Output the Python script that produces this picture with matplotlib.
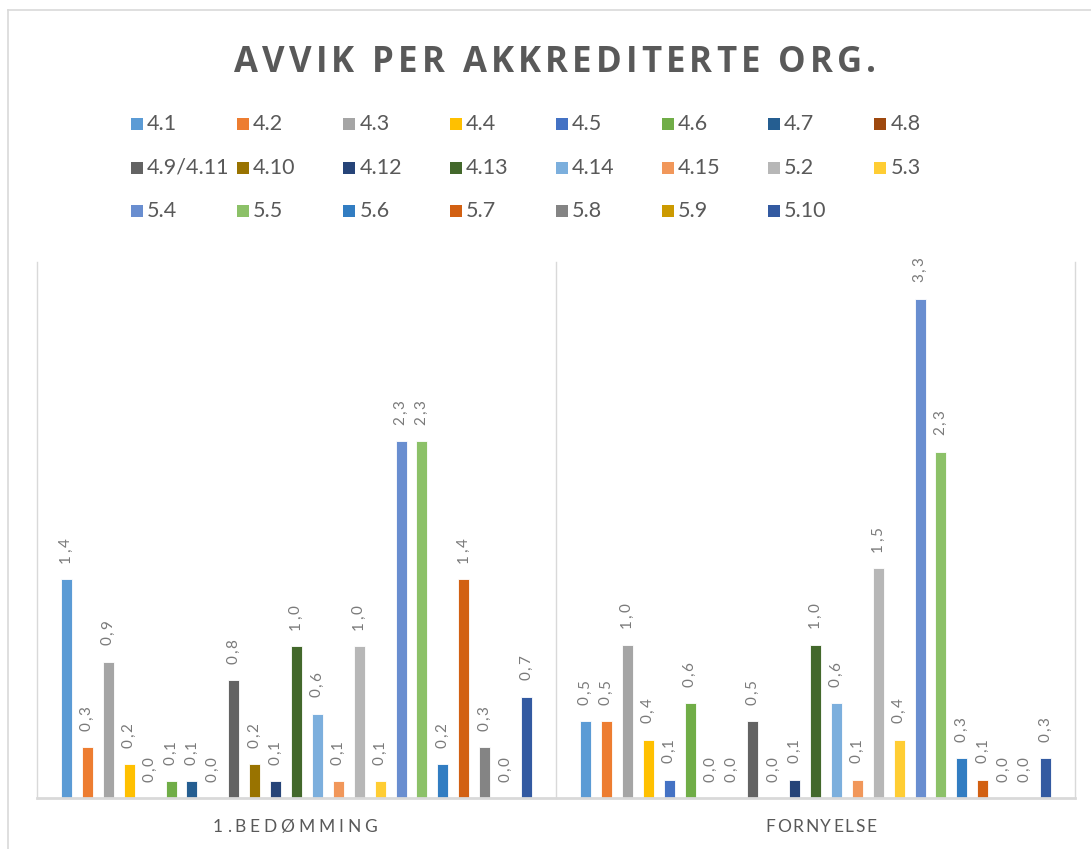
import matplotlib
matplotlib.use("Agg")
import matplotlib.pyplot as plt
from matplotlib.patches import Rectangle
from matplotlib.lines import Line2D
from matplotlib.font_manager import FontProperties

# ---------------- data ----------------
categories = ["1.BEDØMMING", "FORNYELSE"]
series = ["4.1", "4.2", "4.3", "4.4", "4.5", "4.6", "4.7", "4.8",
          "4.9/4.11", "4.10", "4.12", "4.13", "4.14", "4.15", "5.2", "5.3",
          "5.4", "5.5", "5.6", "5.7", "5.8", "5.9", "5.10"]
values_bedomming = [1.43, 0.33, 0.89, 0.22, 0.0, 0.11, 0.11, 0.0,
                    0.77, 0.22, 0.11, 0.99, 0.55, 0.11, 0.99, 0.11,
                    2.33, 2.33, 0.22, 1.43, 0.33, 0.0, 0.66]
values_fornyelse = [0.50, 0.50, 1.00, 0.38, 0.12, 0.62, 0.0, 0.0,
                    0.50, 0.0, 0.12, 1.00, 0.62, 0.12, 1.50, 0.38,
                    3.26, 2.26, 0.26, 0.12, 0.0, 0.0, 0.26]
colors = ["#5B9BD5", "#ED7D31", "#A5A5A5", "#FFC000", "#4472C4", "#70AD47",
          "#255E91", "#9E480E", "#636363", "#997300", "#264478", "#43682B",
          "#7CAFDD", "#F1975A", "#B7B7B7", "#FFCD33", "#698ED0", "#8CC168",
          "#327DC2", "#D26012", "#848484", "#CC9A00", "#335AA1"]
title = "AVVIK PER AKKREDITERTE ORG."

# ---------------- figure ----------------
W, H, DPI = 1091, 849, 100
fig = plt.figure(figsize=(W / DPI, H / DPI), dpi=DPI)
fig.patch.set_facecolor("white")

TXT = "#595959"
LBL = "#7A7A7A"
GRID = "#D9D9D9"
PT = 72 / DPI  # points per pixel

def fx(px):
    return px / W

def fy(py):
    return 1 - py / H

# chart border (left and top edges visible)
fig.add_artist(Line2D([fx(8), fx(8)], [fy(10), fy(849)], color=GRID, lw=1.2))
fig.add_artist(Line2D([fx(8), fx(1091)], [fy(10), fy(10)], color=GRID, lw=1.2))

ax_l, ax_r, ax_t, ax_b = 37, 1075, 262, 798
ax = fig.add_axes([fx(ax_l), fy(ax_b), fx(ax_r - ax_l), (ax_b - ax_t) / H])
ax.set_xlim(-0.5, 1.5)
ax.set_ylim(0, 3.5)
ax.axis("off")

renderer = fig.canvas.get_renderer()

def char_widths(s, prop, size):
    out = []
    for ch in s:
        if ch == " ":
            out.append(0.28 * size / PT)
        else:
            w, h, d = renderer.get_text_width_height_descent(ch, prop, ismath=False)
            out.append(w)
    return out

LBL_SIZE = 11
lbl_prop = FontProperties(family="Lato", size=LBL_SIZE)

def value_label(x, v):
    s = f"{v:.1f}".replace(".", ",")
    widths = char_widths(s, lbl_prop, LBL_SIZE)
    cum = 16.5  # px gap above bar
    for ch, w in zip(s, widths):
        ax.annotate(ch, (x, v), xytext=(3.5 * PT, cum * PT), textcoords="offset points",
                    rotation=90, rotation_mode="anchor", ha="left", va="baseline",
                    fontproperties=lbl_prop, color=LBL)
        cum += w + 1.8

n = len(series)
pitch = 0.0403
bw = 0.0212
data = [values_bedomming, values_fornyelse]
for j, (name, col) in enumerate(zip(series, colors)):
    vals = [d[j] for d in data]
    xs = [i + (j - (n - 1) / 2) * pitch for i in range(len(categories))]
    ax.bar(xs, vals, width=bw, color=col, edgecolor="white", linewidth=0.6, zorder=3)
    for x, v in zip(xs, vals):
        value_label(x, v)

# separators and baseline
for xv in [-0.5, 0.5, 1.5]:
    ax.plot([xv, xv], [0, 3.5], color=GRID, lw=1.0, zorder=1, clip_on=False)
ax.plot([-0.5, 1.5], [0, 0], color=GRID, lw=2.0, zorder=4, clip_on=False)

def spaced_text(s, cx_px, base_px, target_w, size, weight="normal", color=TXT, family="Lato"):
    prop = FontProperties(family=family, size=size, weight=weight)
    widths = char_widths(s, prop, size)
    total = sum(widths)
    sp = (target_w - total) / (len(s) - 1)
    x = cx_px - target_w / 2
    for ch, w in zip(s, widths):
        if ch != " ":
            fig.text(fx(x), fy(base_px), ch, fontproperties=prop, color=color,
                     ha="left", va="baseline")
        x += w + sp

# title
spaced_text(title, 555, 72, 642, 25, weight="bold", family="Open Sans")

# category labels
spaced_text(categories[0], 295, 832, 164, 12.5)
spaced_text(categories[1], 821, 832, 111, 12.5)

# legend
for j, (name, col) in enumerate(zip(series, colors)):
    r, c = divmod(j, 8)
    x0 = 131 + 106.2 * c
    yc = 124 + 43.5 * r
    fig.add_artist(Rectangle((fx(x0), fy(yc + 6)), fx(12), 12 / H, facecolor=col,
                             edgecolor="none", transform=fig.transFigure))
    fig.text(fx(x0 + 16), fy(yc), name, fontsize=15.5, color=TXT, family="Lato",
             ha="left", va="center")

fig.savefig("out.png", dpi=DPI)
